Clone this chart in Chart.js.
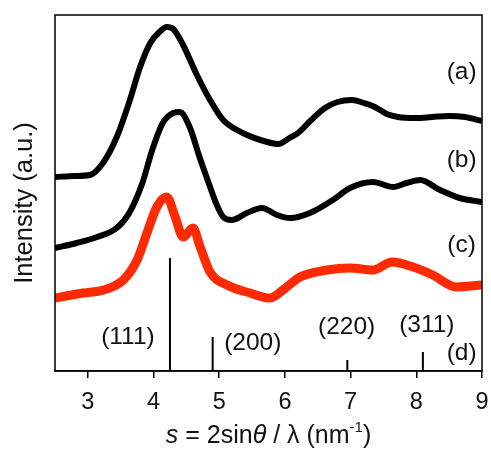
<!DOCTYPE html>
<html>
<head>
<meta charset="utf-8">
<script src="https://cdn.jsdelivr.net/npm/chart.js@4/dist/chart.umd.min.js"></script>
<style>
  html, body { margin: 0; padding: 0; background: #fff; }
  #wrap { width: 491px; height: 450px; position: relative; }
</style>
</head>
<body>
<div id="wrap"><canvas id="c" width="491" height="450"></canvas></div>
<script>
// ---- data (intensity in arbitrary units) ----
const sA = [2.5, 2.8, 3.03, 3.23, 3.44, 3.64, 3.79, 3.95, 4.09, 4.2, 4.3, 4.45, 4.66, 4.86, 5.06, 5.36, 5.73, 5.9, 6.07, 6.2, 6.4, 6.61, 6.8, 7.02, 7.2, 7.37, 7.55, 7.72, 8.0, 8.24, 8.5, 8.74, 9.0];
const yA = [194, 195, 196, 208, 234, 271, 303, 328, 339, 344, 342, 326, 296, 271, 251, 238, 229, 227, 233, 238, 251, 263, 269, 271, 268, 264, 257, 254, 253, 254, 255, 254, 250];

const sB = [2.5, 2.83, 3.14, 3.44, 3.63, 3.83, 3.98, 4.14, 4.3, 4.4, 4.55, 4.7, 4.85, 4.95, 5.06, 5.19, 5.42, 5.65, 5.88, 6.08, 6.38, 6.73, 6.99, 7.34, 7.65, 7.85, 8.06, 8.36, 8.66, 9.0];
const yB = [123, 128, 134, 143, 158, 188, 221, 248, 258, 259, 244, 214, 186, 168, 154, 151, 158, 163, 156, 153, 158, 171, 183, 189, 184, 188, 191, 181, 173, 169];

const sC = [2.5, 2.93, 3.24, 3.54, 3.75, 3.9, 4.05, 4.2, 4.33, 4.45, 4.6, 4.71, 4.86, 5.12, 5.47, 5.77, 5.97, 6.23, 6.64, 6.99, 7.34, 7.63, 7.95, 8.25, 8.61, 9.0];
const yC = [73, 78, 81, 91, 111, 138, 164, 174, 154, 134, 143, 124, 99, 86, 78, 73, 81, 94, 101, 103, 101, 109, 104, 96, 84, 86];

// reference reflections (d)
const stickS = [4.25, 4.9, 6.95, 8.1];
const stickH = [113, 34, 11, 19];
const stickLabels = ['(111)', '(200)', '(220)', '(311)'];

const seriesLabels = ['(a)', '(b)', '(c)', '(d)'];
const xTicks = [3, 4, 5, 6, 7, 8, 9];

// ---- annotation placement in data units ----
const seriesLabelPos = [[8.69, 299], [8.69, 211], [8.69, 126], [8.69, 18]];
const stickLabelPos = [[3.61, 34], [5.51, 28], [6.94, 44], [8.16, 46]];

const FONT = '"Liberation Sans", Arial, Helvetica, sans-serif';

function pts(xs, ys) { return xs.map((x, i) => ({ x: x, y: ys[i] })); }

const datasets = [
  { label: 'a', data: pts(sA, yA), borderColor: '#000', borderWidth: 6 },
  { label: 'b', data: pts(sB, yB), borderColor: '#000', borderWidth: 6 },
  { label: 'c', data: pts(sC, yC), borderColor: '#ff2a00', borderWidth: 9 }
].map(d => Object.assign(d, { pointRadius: 0, cubicInterpolationMode: 'monotone', fill: false }));

stickS.forEach((s, i) => {
  datasets.push({
    label: 'd' + i,
    data: [{ x: s, y: 0 }, { x: s, y: stickH[i] }],
    borderColor: '#000', borderWidth: 2, pointRadius: 0, fill: false
  });
});

const decor = {
  id: 'decor',
  afterDraw(chart) {
    const { ctx, chartArea: a, scales: { x, y } } = chart;
    ctx.save();
    // frame
    ctx.strokeStyle = '#000';
    ctx.lineWidth = 1.5;
    ctx.strokeRect(a.left, a.top, a.right - a.left, a.bottom - a.top);
    // labels
    ctx.fillStyle = '#111';
    ctx.textAlign = 'center';
    ctx.textBaseline = 'middle';
    ctx.font = '24.5px ' + FONT;
    seriesLabels.forEach((t, i) => {
      ctx.fillText(t, x.getPixelForValue(seriesLabelPos[i][0]), y.getPixelForValue(seriesLabelPos[i][1]));
    });
    stickLabels.forEach((t, i) => {
      ctx.fillText(t, x.getPixelForValue(stickLabelPos[i][0]), y.getPixelForValue(stickLabelPos[i][1]));
    });
    // y title
    ctx.save();
    ctx.translate(a.left - 30, (a.top + a.bottom) / 2 + 10);
    ctx.rotate(-Math.PI / 2);
    ctx.font = '25.5px ' + FONT;
    ctx.fillText('Intensity (a.u.)', 0, 0);
    ctx.restore();
    // x title with mixed styles
    const runs = [
      { t: 's', f: 'italic 25px ' + FONT, dy: 0 },
      { t: ' = 2sin', f: '25px ' + FONT, dy: 0 },
      { t: 'θ', f: 'italic 25px ' + FONT, dy: 0 },
      { t: ' / λ (nm', f: '25px ' + FONT, dy: 0 },
      { t: '-1', f: '15px ' + FONT, dy: -11 },
      { t: ')', f: '25px ' + FONT, dy: 0 }
    ];
    let total = 0;
    runs.forEach(r => { ctx.font = r.f; r.w = ctx.measureText(r.t).width; total += r.w; });
    let cx = (a.left + a.right) / 2 - total / 2;
    const base = 443;
    ctx.textAlign = 'left';
    ctx.textBaseline = 'alphabetic';
    runs.forEach(r => { ctx.font = r.f; ctx.fillText(r.t, cx, base + r.dy); cx += r.w; });
    ctx.restore();
  }
};

new Chart(document.getElementById('c'), {
  type: 'line',
  data: { datasets: datasets },
  options: {
    responsive: false,
    animation: false,
    layout: { padding: { left: 55, top: 15, right: 9, bottom: 0 } },
    plugins: { legend: { display: false }, tooltip: { enabled: false } },
    scales: {
      x: {
        type: 'linear', min: 2.5, max: 9,
        afterBuildTicks(scale) { scale.ticks = xTicks.map(v => ({ value: v })); },
        afterFit(scale) { scale.height = 79; scale.paddingLeft = 0; scale.paddingRight = 0; },
        grid: { drawOnChartArea: false, drawTicks: true, tickLength: 7, color: '#000', lineWidth: 1.5 },
        border: { display: true, color: '#000', width: 1.5 },
        ticks: { color: '#111', font: { family: FONT, size: 23.5 }, padding: 10, maxRotation: 0, autoSkip: false }
      },
      y: { type: 'linear', min: 0, max: 356, display: false }
    }
  },
  plugins: [decor]
});
</script>
</body>
</html>
